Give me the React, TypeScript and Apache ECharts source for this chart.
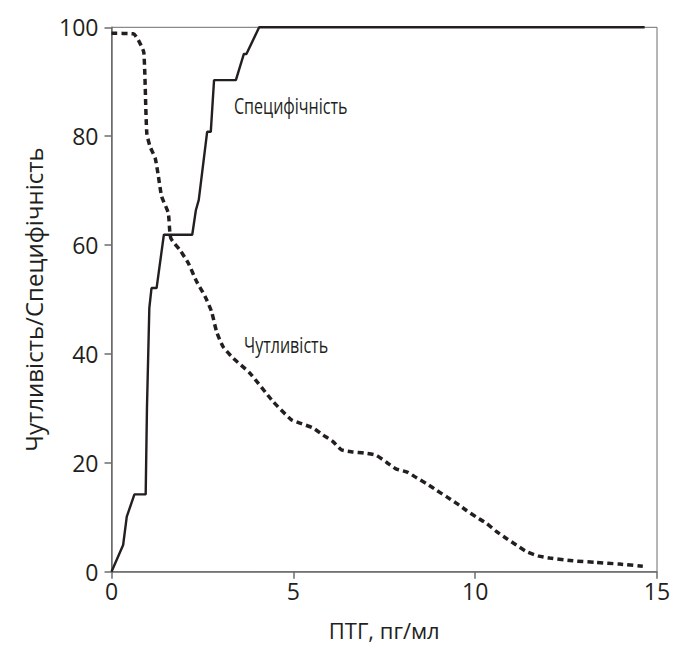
import React, { useEffect, useRef } from "react";
import * as echarts from "echarts";

const specX = [0, 0.32, 0.42, 0.63, 0.94, 0.975, 1.04, 1.1, 1.24, 1.44, 2.22, 2.32, 2.4, 2.63, 2.73, 2.82, 3.42, 3.64, 3.71, 4.06, 14.66];
const specY = [0, 4.9, 10.1, 14.2, 14.2, 30, 48.4, 52.1, 52.1, 61.9, 61.9, 66.4, 68.3, 80.8, 80.8, 90.3, 90.3, 95.1, 95.1, 100, 100];

const sensX = [0, 0.6, 0.78, 0.89, 0.97, 1.06, 1.2, 1.29, 1.38, 1.56, 1.63, 1.88, 2.11, 2.34, 2.57, 2.75, 2.89, 3.07, 3.35, 3.8, 4.45, 4.95, 5.18, 5.54, 5.82, 6.09, 6.32, 6.62, 6.94, 7.27, 7.56, 7.82, 8.13, 8.4, 8.68, 8.95, 9.23, 9.5, 9.77, 10.04, 10.31, 10.58, 10.86, 11.13, 11.41, 11.73, 12.05, 12.69, 13.33, 13.97, 14.61];
const sensY = [98.9, 98.8, 97.1, 95.3, 80.6, 78.1, 76, 72.6, 68.9, 65.9, 61.3, 59.1, 56.7, 53.3, 50.6, 47.8, 44.1, 41.3, 39.2, 36.5, 31.2, 27.9, 27.3, 26.4, 25.1, 23.9, 22.4, 22.0, 21.8, 21.4, 20.1, 18.9, 18.3, 17.2, 16.1, 14.9, 13.7, 12.5, 11.2, 10.0, 8.9, 7.4, 6.1, 4.9, 3.7, 2.9, 2.5, 2.0, 1.7, 1.4, 1.0];

const xTicks = [0, 5, 10, 15];
const yTicks = [0, 20, 40, 60, 80, 100];

const xTitle = "ПТГ, пг/мл";
const yTitle = "Чутливість/Специфічність";
const specLabel = "Специфічність";
const sensLabel = "Чутливість";

export default function App() {
  const ref = useRef<HTMLDivElement>(null);
  useEffect(() => {
    if (!ref.current) return;
    const chart = echarts.init(ref.current, null, { renderer: "svg" });
    const font = "'Open Sans', 'Noto Sans', sans-serif";
    const axisColor = "#6d6d6d";
    const textColor = "#231f20";
    chart.setOption({
      animation: false,
      backgroundColor: "#ffffff",
      grid: {
        left: 111.5,
        right: 25,
        top: 27.3,
        bottom: 77.3,
        show: true,
        borderColor: axisColor,
        borderWidth: 1,
      },
      xAxis: {
        type: "value",
        min: xTicks[0],
        max: xTicks[xTicks.length - 1],
        interval: 5,
        name: xTitle,
        nameLocation: "middle",
        nameGap: 47,
        nameTextStyle: { fontFamily: font, fontSize: 22, color: textColor },
        axisLine: { show: true, lineStyle: { color: axisColor, width: 1.5 } },
        axisTick: { show: true, length: 7, lineStyle: { color: axisColor, width: 1.5 } },
        axisLabel: { fontFamily: font, fontSize: 23, color: textColor, margin: 8 },
        splitLine: { show: false },
      },
      yAxis: {
        type: "value",
        min: yTicks[0],
        max: yTicks[yTicks.length - 1],
        interval: 20,
        name: yTitle,
        nameLocation: "middle",
        nameGap: 66,
        nameTextStyle: { fontFamily: font, fontSize: 24, color: textColor },
        axisLine: { show: true, lineStyle: { color: axisColor, width: 1.5 } },
        axisTick: { show: true, length: 7, lineStyle: { color: axisColor, width: 1.5 } },
        axisLabel: { fontFamily: font, fontSize: 23, color: textColor, margin: 13 },
        splitLine: { show: false },
      },
      series: [
        {
          name: specLabel,
          type: "line",
          data: specX.map((x, i) => [x, specY[i]]),
          showSymbol: false,
          symbol: "none",
          lineStyle: { color: "#231f20", width: 2.4, type: "solid" },
          z: 3,
        },
        {
          name: sensLabel,
          type: "line",
          data: sensX.map((x, i) => [x, sensY[i]]),
          showSymbol: false,
          symbol: "none",
          smooth: 0.2,
          lineStyle: { color: "#231f20", width: 3.5, type: [6, 4] },
          z: 2,
        },
      ],
      graphic: [
        {
          type: "text",
          x: 234,
          y: 94,
          scaleX: 0.73,
          style: { text: specLabel, fontFamily: font, fontSize: 22, fill: textColor },
        },
        {
          type: "text",
          x: 244,
          y: 333,
          scaleX: 0.73,
          style: { text: sensLabel, fontFamily: font, fontSize: 22, fill: textColor },
        },
      ],
    });
    return () => chart.dispose();
  }, []);
  return (
    <div
      ref={ref}
      style={{ position: "fixed", left: 0, top: 0, width: 682, height: 649 }}
    />
  );
}
